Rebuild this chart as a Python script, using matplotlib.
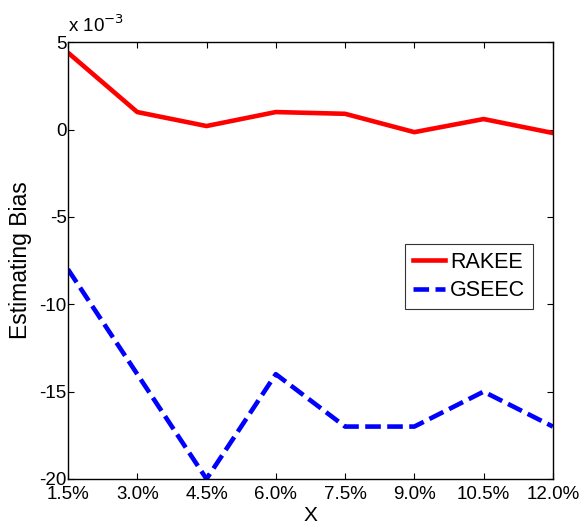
import numpy as np
import matplotlib
matplotlib.use('Agg')
from matplotlib import pyplot as plt
from matplotlib.ticker import FuncFormatter

x_labels = ['1.5%', '3.0%', '4.5%', '6.0%', '7.5%', '9.0%', '10.5%', '12.0%']
x_vals = [1.5, 3.0, 4.5, 6.0, 7.5, 9.0, 10.5, 12.0]
rakee = [4.4e-3, 1.0e-3, 0.2e-3, 1.0e-3, 0.9e-3, -0.15e-3, 0.6e-3, -0.2e-3]
gseec = [-8e-3, -14e-3, -20e-3, -14e-3, -17e-3, -17e-3, -15e-3, -17e-3]
y_ticks = [-20e-3, -15e-3, -10e-3, -5e-3, 0, 5e-3]

plt.rcParams['font.family'] = ['Liberation Sans', 'DejaVu Sans']

fig = plt.figure(figsize=(5.82, 5.27), dpi=100)
ax = fig.add_axes([0.1168, 0.0911, 0.8332, 0.8289])

ax.plot(x_vals, rakee, color='#ff0000', lw=3.3, label='RAKEE')
ax.plot(x_vals, gseec, color='#0000ff', lw=3.3, ls=(0, (3.4, 1.4)), label='GSEEC')

ax.set_xlim(1.5, 12.0)
ax.set_ylim(-20e-3, 5e-3)
ax.set_xticks(x_vals)
ax.set_xticklabels(x_labels)
ax.set_yticks(y_ticks)
ax.yaxis.set_major_formatter(FuncFormatter(lambda v, p: '%d' % round(v * 1e3)))

ax.tick_params(direction='in', length=4, width=0.8, top=True, right=True,
               labelsize=13.5, colors='black')
ax.tick_params(axis='x', pad=5)
ax.tick_params(axis='y', pad=1)
for s in ax.spines.values():
    s.set_linewidth(1.0)

ax.text(0.0, 1.014, 'x 10$^{-3}$', transform=ax.transAxes, fontsize=13.5,
        ha='left', va='bottom')

ax.set_xlabel('X', fontsize=15, labelpad=2.5)
ax.set_ylabel('Estimating Bias', fontsize=16.5)
ax.yaxis.set_label_coords(-0.074, 0.5)

leg = ax.legend(loc='upper right', bbox_to_anchor=(0.959, 0.538), fontsize=15.5,
                frameon=True, fancybox=False, edgecolor='black', handlelength=1.5,
                handletextpad=0.25, borderpad=0.35, labelspacing=0.35,
                borderaxespad=0)
leg.get_frame().set_linewidth(0.8)

fig.savefig('out.png', dpi=100)
